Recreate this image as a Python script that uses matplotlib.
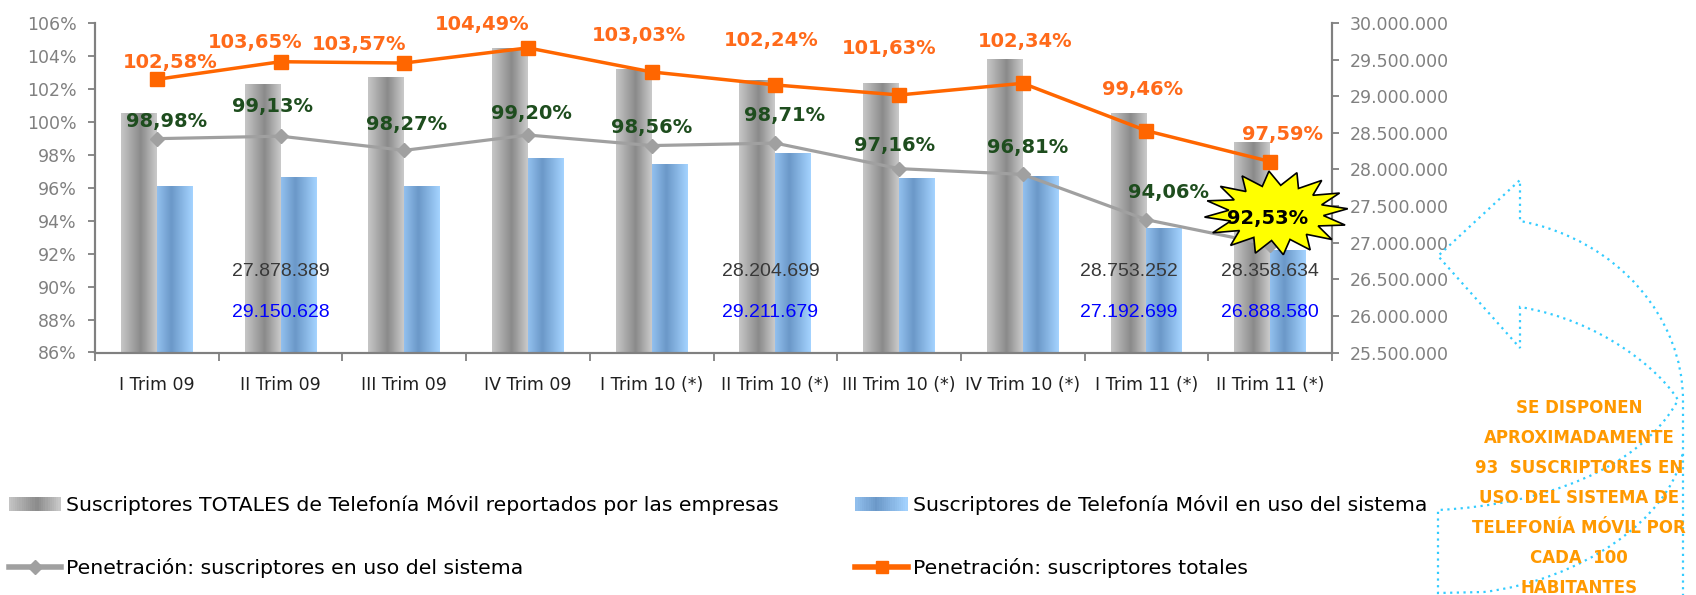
import numpy as np
import matplotlib
matplotlib.use("Agg")
import matplotlib.pyplot as plt
import matplotlib.transforms as mtransforms
from matplotlib.colors import LinearSegmentedColormap
from matplotlib.patches import Polygon, PathPatch, Rectangle
from matplotlib.path import Path
from matplotlib.lines import Line2D
from matplotlib.legend_handler import HandlerBase

# ---- data ----
categories = ["I Trim 09", "II Trim 09", "III Trim 09", "IV Trim 09",
              "I Trim 10 (*)", "II Trim 10 (*)", "III Trim 10 (*)", "IV Trim 10 (*)",
              "I Trim 11 (*)", "II Trim 11 (*)"]
totales = [28760000, 29150628, 29250000, 29645000, 29360000,
           29211679, 29170000, 29497000, 28753252, 28358634]
en_uso = [27758000, 27878389, 27758000, 28138000, 28060000,
          28204699, 27870000, 27897000, 27192699, 26888580]
pen_totales = [102.58, 103.65, 103.57, 104.49, 103.03, 102.24, 101.63, 102.34, 99.46, 97.59]
pen_uso = [98.98, 99.13, 98.27, 99.20, 98.56, 98.71, 97.16, 96.81, 94.06, 92.53]

# value boxes printed inside some bars (upper grey text / lower blue text)
val_cats = [1, 5, 8, 9]
val_upper = ["27.878.389", "28.204.699", "28.753.252", "28.358.634"]
val_lower = ["29.150.628", "29.211.679", "27.192.699", "26.888.580"]

legend_labels = ["Suscriptores TOTALES de Telefonía Móvil reportados por las empresas",
                 "Penetración: suscriptores en uso del sistema",
                 "Suscriptores de Telefonía Móvil en uso del sistema",
                 "Penetración: suscriptores totales"]
note = ("SE DISPONEN\nAPROXIMADAMENTE\n93  SUSCRIPTORES EN\nUSO DEL SISTEMA DE\n"
        "TELEFONÍA MÓVIL POR\nCADA  100\nHABITANTES")

# label placement (pixel offsets from the points)
orange_off = [(13, 17), (-25, 19), (-45, 19), (-46, 23), (-13, 36),
              (-4, 44), (-10, 46), (2, 42), (-4, 41), (12, 27)]
green_off = [(10, 17), (-8, 30), (2, 26), (3, 22), (0, 18),
             (9, 28), (-4, 23), (5, 27), (22, 27)]
val_dx = [0, -5, -18, 0]

W, H = 1696, 595
ORANGE = "#FF6600"
GREY_LINE = "#A0A0A0"
AXIS_GREY = "#808080"


class GradHandler(HandlerBase):
    # legend key drawn as a horizontal gradient, like the bars
    def __init__(self, cmap):
        super().__init__()
        self.cmap = cmap

    def create_artists(self, legend, orig_handle, xdescent, ydescent, width, height,
                       fontsize, trans):
        n = 24
        out = []
        for i in range(n):
            out.append(Rectangle((-xdescent + width * i / n, -ydescent), width / n * 1.1, height,
                                 facecolor=self.cmap((i + 0.5) / n), edgecolor="none",
                                 transform=trans))
        return out


fig = plt.figure(figsize=(W / 100, H / 100), dpi=100)
ax = fig.add_axes([95 / W, 1 - 352.5 / H, (1332 - 95) / W, (352.5 - 23) / H])
ax2 = ax.twinx()

x = np.arange(len(categories))
bw = 0.29
ymin, ymax = 25500000, 30000000

bars_tot = ax2.bar(x - bw / 2, totales, bw, color="#A6A6A6", zorder=1)
bars_uso = ax2.bar(x + bw / 2, en_uso, bw, color="#80B2E6", zorder=1)

grad = np.linspace(0, 1, 64).reshape(1, -1)
grey_cmap = LinearSegmentedColormap.from_list(
    "gr", [(0, "#C6C6C6"), (0.55, "#8A8A8A"), (1, "#CACACA")])
blue_cmap = LinearSegmentedColormap.from_list(
    "bl", [(0, "#92C0EE"), (0.4, "#6B98C8"), (1, "#A4D3FF")])
for bars, cm in [(bars_tot, grey_cmap), (bars_uso, blue_cmap)]:
    for r in bars:
        ax2.imshow(grad, extent=(r.get_x(), r.get_x() + r.get_width(), ymin, r.get_height()),
                   aspect="auto", cmap=cm, zorder=2, interpolation="bicubic")

ax2.set_ylim(ymin, ymax)
ax2.set_yticks(np.arange(ymin, ymax + 1, 500000))
ax2.set_yticklabels([f"{v:,.0f}".replace(",", ".") for v in np.arange(ymin, ymax + 1, 500000)])

# lines on the left (percent) axis, drawn above the bars
ax.set_zorder(ax2.get_zorder() + 1)
ax.patch.set_visible(False)
ax.plot(x, pen_uso, color=GREY_LINE, lw=2.3, marker="D", ms=7.5, zorder=3)
ax.plot(x, pen_totales, color=ORANGE, lw=2.5, marker="s", ms=9.5, zorder=4)
ax.set_ylim(86, 106)
ax.set_yticks(np.arange(86, 107, 2))
ax.set_yticklabels([f"{v}%" for v in range(86, 107, 2)])
ax.set_xlim(-0.5, len(categories) - 0.5)
ax.set_xticks(x)
ax.set_xticklabels(categories, fontsize=12.5, color="#202020")
ax.set_xticks(np.arange(-0.5, len(categories)), minor=True)
ax.tick_params(axis="x", which="major", length=0, pad=17)
ax.tick_params(axis="x", which="minor", length=6, color=AXIS_GREY, width=1.3)

for a in (ax, ax2):
    a.spines["top"].set_visible(False)
    for s in ("left", "right", "bottom"):
        a.spines[s].set_color(AXIS_GREY)
        a.spines[s].set_linewidth(1.5)
ax.tick_params(axis="y", length=5, width=1.3, color=AXIS_GREY, labelcolor=AXIS_GREY,
               labelsize=12.5, pad=8)
ax2.tick_params(axis="y", length=5, width=1.3, color=AXIS_GREY, labelcolor=AXIS_GREY,
                labelsize=12.5, pad=8)

for i, v in enumerate(pen_totales):
    ax.annotate(f"{v:.2f}%".replace(".", ","), (i, v), xytext=orange_off[i],
                textcoords="offset pixels", ha="center", va="center",
                fontsize=14, fontweight="bold", color="#FF6A1A", zorder=6)
for i, v in enumerate(pen_uso[:-1]):
    ax.annotate(f"{v:.2f}%".replace(".", ","), (i, v), xytext=green_off[i],
                textcoords="offset pixels", ha="center", va="center",
                fontsize=14, fontweight="bold", color="#1E4D1E", zorder=6)

blend = mtransforms.blended_transform_factory(ax.transData, ax.transAxes)
for k, c in enumerate(val_cats):
    ax.annotate(val_upper[k], (c, 0.245), xycoords=blend, xytext=(val_dx[k], 0),
                textcoords="offset pixels", ha="center", va="center",
                fontsize=14, family="Liberation Sans", color="#383838", zorder=5)
    ax.annotate(val_lower[k], (c, 0.12), xycoords=blend, xytext=(val_dx[k], 0),
                textcoords="offset pixels", ha="center", va="center",
                fontsize=14, family="Liberation Sans", color="#0000FF", zorder=5)

# starburst around the last penetration value
fig.canvas.draw()
px, py = ax.transData.transform((x[-1], pen_uso[-1]))
cx, cy = px + 6, py + 32
n = 16
ang = np.linspace(0, 2 * np.pi, 2 * n, endpoint=False) + 0.1
rad = np.where(np.arange(2 * n) % 2 == 0, 1.0, 0.66)
sx = cx + 72 * rad * np.cos(ang)
sy = cy + 42 * rad * np.sin(ang)
star = Polygon(np.column_stack([sx / W, sy / H]), closed=True, transform=fig.transFigure,
               facecolor="#FFFF00", edgecolor="black", lw=1.2, zorder=10)
fig.patches.append(star)
fig.text((cx - 9) / W, (cy - 6) / H, f"{pen_uso[-1]:.2f}%".replace(".", ","),
         ha="center", va="center", fontsize=14, fontweight="bold", color="black", zorder=11)

# legend, two columns
h_tot = Rectangle((0, 0), 1, 1, facecolor="#A0A0A0")
h_uso = Rectangle((0, 0), 1, 1, facecolor="#7FAEDF")
h_l_uso = Line2D([], [], color=GREY_LINE, lw=4, marker="D", ms=7)
h_l_tot = Line2D([], [], color=ORANGE, lw=4, marker="s", ms=8)
hmap = {h_tot: GradHandler(grey_cmap), h_uso: GradHandler(blue_cmap)}
common = dict(loc="upper left", frameon=False, fontsize=14.7, handlelength=2.55,
              handletextpad=0.28, labelspacing=2.1, borderpad=0, borderaxespad=0,
              handleheight=0.7, handler_map=hmap)
fig.legend([h_tot, h_l_uso], legend_labels[:2], bbox_to_anchor=(8.6 / W, 1 - 495 / H), **common)
fig.legend([h_uso, h_l_tot], legend_labels[2:], bbox_to_anchor=(855.5 / W, 1 - 495 / H), **common)


# dotted curved arrow callout
def fp(px_, py_):
    return (px_ / W, 1 - py_ / H)


verts = [fp(1683, 610), fp(1683, 400),
         fp(1683, 320), fp(1620, 240), fp(1520, 221),
         fp(1520, 180), fp(1438, 256), fp(1520, 348), fp(1520, 307),
         fp(1600, 320), fp(1660, 370), fp(1678, 400),
         fp(1640, 470), fp(1540, 505), fp(1438, 510),
         fp(1438, 593), fp(1484, 592),
         fp(1580, 580), fp(1670, 520), fp(1683, 452)]
codes = [Path.MOVETO, Path.LINETO,
         Path.CURVE4, Path.CURVE4, Path.CURVE4,
         Path.LINETO, Path.LINETO, Path.LINETO, Path.LINETO,
         Path.CURVE4, Path.CURVE4, Path.CURVE4,
         Path.CURVE4, Path.CURVE4, Path.CURVE4,
         Path.LINETO, Path.LINETO,
         Path.CURVE4, Path.CURVE4, Path.CURVE4]
arrow = PathPatch(Path(verts, codes), transform=fig.transFigure, facecolor="none",
                  edgecolor="#33CCFF", lw=1.6, linestyle=(0, (1, 2)), zorder=8)
fig.patches.append(arrow)

fig.text(1579 / W, 1 - 399 / H, note, ha="center", va="top", fontsize=12,
         fontweight="bold", color="#FF9900", linespacing=1.86, zorder=9)

fig.savefig("out.png", dpi=100)
